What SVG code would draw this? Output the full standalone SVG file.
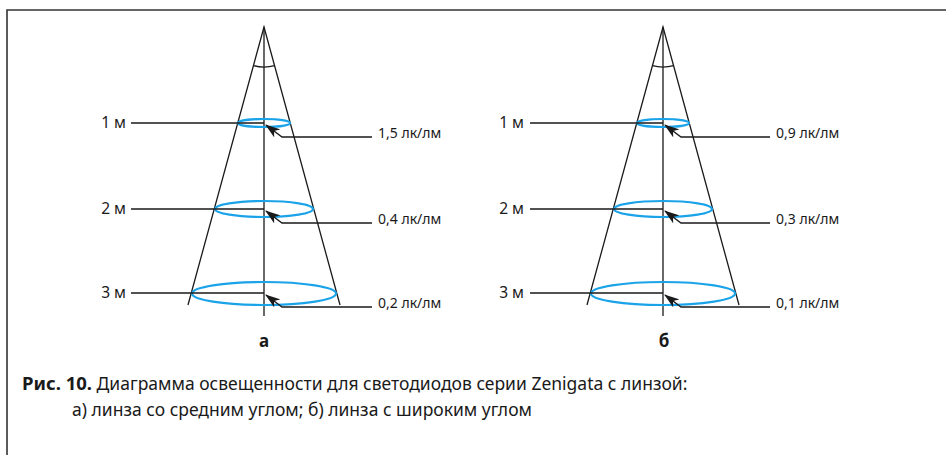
<svg xmlns="http://www.w3.org/2000/svg" width="946" height="455" viewBox="0 0 946 455">
<style>
.ln{stroke:#1a1a1a;stroke-width:1.3;fill:none}
.el{stroke:#1aa3e8;stroke-width:2.2;fill:none}
.ld{stroke:#1a1a1a;stroke-width:1.3;fill:none;marker-end:url(#ah)}
.t{font-family:"Noto Sans","Open Sans","Liberation Sans",sans-serif;font-size:14px;fill:#1a1a1a}
.m{font-family:"Noto Sans","Open Sans","Liberation Sans",sans-serif;font-size:15.5px;fill:#1a1a1a;text-anchor:end}
.b{font-family:"Noto Sans","Open Sans","Liberation Sans",sans-serif;font-size:17px;font-weight:bold;fill:#1a1a1a;text-anchor:middle}
.c{font-family:"Noto Sans","Open Sans","Liberation Sans",sans-serif;font-size:17.5px;fill:#1a1a1a}
</style>
<defs>
<marker id="ah" viewBox="0 0 15 10" refX="14" refY="5" markerWidth="15" markerHeight="10" markerUnits="userSpaceOnUse" orient="auto">
<path d="M0,0 L15,5 L0,10 L4,5 z" fill="#1a1a1a"/>
</marker>
</defs>
<rect width="946" height="455" fill="#fff"/>
<path d="M7,455 V10 H946" stroke="#333" stroke-width="1.6" fill="none"/>
<g id="cone-a">
<path class="ln" d="M188,305 L264,27 L340,305"/>
<path class="ln" d="M264,27 V316"/>
<path class="ln" d="M253.4,65.6 A40,40 0 0 0 274.6,65.6"/>
<ellipse class="el" cx="264" cy="123" rx="26" ry="4"/>
<ellipse class="el" cx="264" cy="209" rx="49" ry="8"/>
<ellipse class="el" cx="264" cy="293.5" rx="72" ry="11.5"/>
<text class="b" x="264" y="347">а</text>
</g>
<g id="cone-b">
<path class="ln" d="M587,305 L663,27 L739,305"/>
<path class="ln" d="M663,27 V316"/>
<path class="ln" d="M652.4,65.6 A40,40 0 0 0 673.6,65.6"/>
<ellipse class="el" cx="663" cy="123" rx="26" ry="4"/>
<ellipse class="el" cx="663" cy="209" rx="49" ry="8"/>
<ellipse class="el" cx="663" cy="293.5" rx="72" ry="11.5"/>
<text class="b" x="664" y="347">б</text>
</g>
<g id="labels-a">
<text class="m" x="126" y="128">1 м</text>
<text class="m" x="126" y="214">2 м</text>
<text class="m" x="126" y="298">3 м</text>
<text class="t" x="378" y="138">1,5 лк/лм</text>
<text class="t" x="378" y="224">0,4 лк/лм</text>
<text class="t" x="378" y="308">0,2 лк/лм</text>
</g>
<g id="labels-b">
<text class="m" x="524" y="128">1 м</text>
<text class="m" x="524" y="214">2 м</text>
<text class="m" x="524" y="298">3 м</text>
<text class="t" x="776" y="138">0,9 лк/лм</text>
<text class="t" x="776" y="224">0,3 лк/лм</text>
<text class="t" x="776" y="308">0,1 лк/лм</text>
</g>
<g id="connectors">
<path class="ln" d="M131,123 H264 M131,209 H264 M131,293 H264"/>
<path class="ld" d="M372,137 H282 L266,125"/>
<path class="ld" d="M372,223 H282 L266,211"/>
<path class="ld" d="M372,307 H282 L266,295"/>
<path class="ln" d="M530,123 H663 M530,209 H663 M530,293 H663"/>
<path class="ld" d="M770,137 H681 L665,125"/>
<path class="ld" d="M770,223 H681 L665,211"/>
<path class="ld" d="M770,307 H681 L665,295"/>
</g>
<g id="caption">
<text class="c" x="22" y="390"><tspan font-weight="bold" font-size="18.5px">Рис. 10.</tspan> Диаграмма освещенности для светодиодов серии Zenigata с линзой:</text>
<text class="c" x="72" y="416">а) линза со средним углом; б) линза с широким углом</text>
</g>
</svg>
